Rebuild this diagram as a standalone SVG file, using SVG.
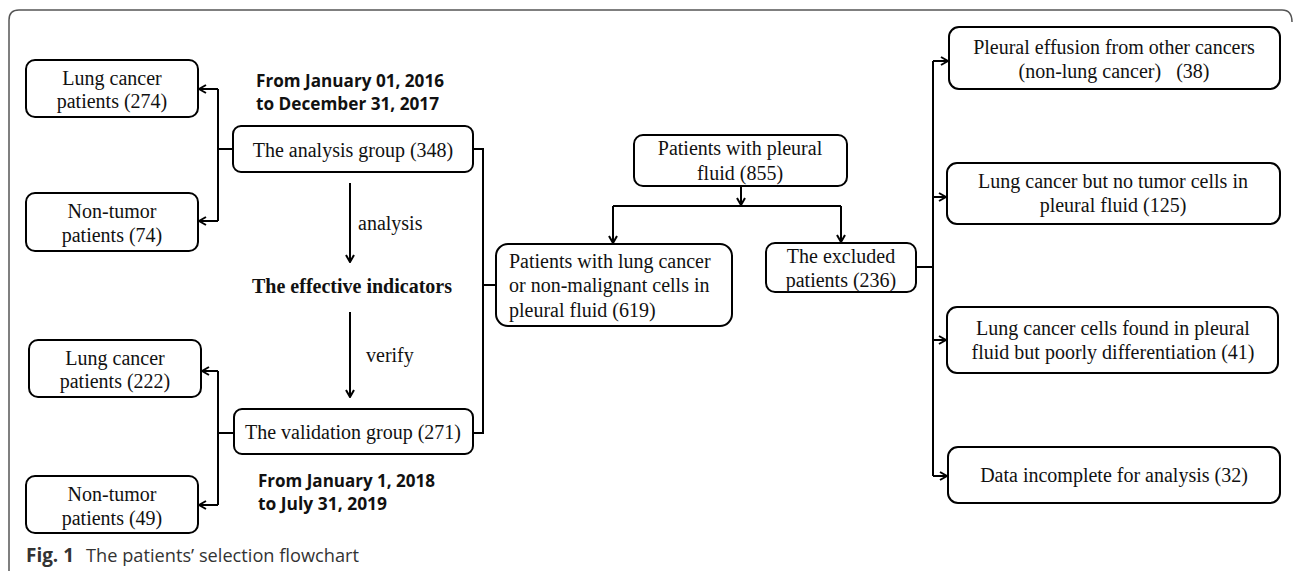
<svg xmlns="http://www.w3.org/2000/svg" width="1293" height="571" viewBox="0 0 1293 571">
<defs>
<marker id="arr" viewBox="0 0 10 10" refX="9" refY="5" markerWidth="10" markerHeight="10" markerUnits="userSpaceOnUse" orient="auto">
<path d="M2,1 L9,5 L2,9" fill="none" stroke="#000" stroke-width="2"/>
</marker>
<style>
.box{fill:#fff;stroke:#000;stroke-width:2}
.t{font-family:"Liberation Serif","Times New Roman",serif;font-size:20px;fill:#111;text-anchor:middle;white-space:pre}
.tl{text-anchor:start}
.b{font-weight:bold}
.d{font-family:"Open Sans","Noto Sans",sans-serif;font-weight:bold;font-size:18px;fill:#111}
.c{fill:none;stroke:#000;stroke-width:2}
.ca{fill:none;stroke:#000;stroke-width:2;marker-end:url(#arr)}
.cap{font-family:"Open Sans","Noto Sans",sans-serif;font-size:19px;fill:#333}
</style>
</defs>
<rect width="1293" height="571" fill="#fff"/>
<path d="M9,571 V20 Q9,10 19,10 H1282 Q1292,10 1292,22" fill="none" stroke="#555" stroke-width="1.5"/>

<g id="connectors">
<path class="c" d="M233,149 H218 M218,89 V221"/>
<path class="ca" d="M218,89 H199"/>
<path class="ca" d="M218,221 H199"/>
<path class="c" d="M234,433 H218 M218,371 V505"/>
<path class="ca" d="M218,371 H202"/>
<path class="ca" d="M218,505 H199"/>
<path class="c" d="M473,149 H483 V433 H473 M483,285 H496"/>
<path class="ca" d="M350,183 V262"/>
<path class="ca" d="M350,312 V397"/>
<path class="ca" d="M741,186 V205"/>
<path class="c" d="M613,206 H841"/>
<path class="ca" d="M613,206 V243"/>
<path class="ca" d="M841,206 V242"/>
<path class="c" d="M916,267 H933 M933,61 V476"/>
<path class="ca" d="M933,61 H948"/>
<path class="ca" d="M933,197 H946"/>
<path class="ca" d="M933,340 H946"/>
<path class="ca" d="M933,476 H947"/>
</g>

<g id="lung274"><rect class="box" x="26" y="60" width="172" height="57" rx="9"/>
<text class="t" x="112" y="85">Lung cancer</text><text class="t" x="112" y="108">patients (274)</text></g>
<g id="nontumor74"><rect class="box" x="26" y="193" width="172" height="58" rx="9"/>
<text class="t" x="112" y="218">Non-tumor</text><text class="t" x="112" y="242">patients (74)</text></g>
<g id="analysis"><rect class="box" x="233" y="126" width="240" height="46" rx="8"/>
<text class="t" x="353" y="157">The analysis group (348)</text></g>
<g id="date1"><text class="d" x="256" y="87" textLength="188" lengthAdjust="spacingAndGlyphs">From January 01, 2016</text>
<text class="d" x="256" y="110" textLength="183" lengthAdjust="spacingAndGlyphs">to December 31, 2017</text></g>
<g id="lbl-analysis"><text class="t tl" x="358" y="230">analysis</text></g>
<g id="indicators"><text class="t b" x="352" y="293">The effective indicators</text></g>
<g id="lbl-verify"><text class="t tl" x="366" y="362">verify</text></g>
<g id="lung222"><rect class="box" x="29" y="340" width="172" height="57" rx="9"/>
<text class="t" x="115" y="365">Lung cancer</text><text class="t" x="115" y="388">patients (222)</text></g>
<g id="nontumor49"><rect class="box" x="26" y="476" width="172" height="57" rx="9"/>
<text class="t" x="112" y="501">Non-tumor</text><text class="t" x="112" y="525">patients (49)</text></g>
<g id="validation"><rect class="box" x="234" y="409" width="239" height="45" rx="8"/>
<text class="t" x="353" y="439">The validation group (271)</text></g>
<g id="date2"><text class="d" x="258" y="487" textLength="177" lengthAdjust="spacingAndGlyphs">From January 1, 2018</text>
<text class="d" x="258" y="510" textLength="129" lengthAdjust="spacingAndGlyphs">to July 31, 2019</text></g>

<g id="pleural855"><rect class="box" x="634" y="135" width="213" height="51" rx="9"/>
<text class="t" x="740" y="155">Patients with pleural</text><text class="t" x="740" y="180">fluid (855)</text></g>
<g id="lung619"><rect class="box" x="496" y="244" width="236" height="82" rx="12"/>
<text class="t tl" x="509" y="268">Patients with lung cancer</text>
<text class="t tl" x="509" y="292">or non-malignant cells in</text>
<text class="t tl" x="509" y="317">pleural fluid (619)</text></g>
<g id="excluded"><rect class="box" x="766" y="243" width="150" height="49" rx="9"/>
<text class="t" x="841" y="263">The excluded</text><text class="t" x="841" y="287">patients (236)</text></g>

<g id="other38"><rect class="box" x="949" y="27" width="331" height="62" rx="10"/>
<text class="t" x="1114" y="54">Pleural effusion from other cancers</text>
<text class="t" x="1114" y="78">(non-lung cancer)   (38)</text></g>
<g id="notumor125"><rect class="box" x="947" y="163" width="333" height="61" rx="10"/>
<text class="t" x="1113" y="188">Lung cancer but no tumor cells in</text>
<text class="t" x="1113" y="212">pleural fluid (125)</text></g>
<g id="poor41"><rect class="box" x="947" y="307" width="331" height="66" rx="10"/>
<text class="t" x="1113" y="335">Lung cancer cells found in pleural</text>
<text class="t" x="1113" y="359">fluid but poorly differentiation (41)</text></g>
<g id="incomplete32"><rect class="box" x="948" y="447" width="332" height="56" rx="10"/>
<text class="t" x="1114" y="482">Data incomplete for analysis (32)</text></g>

<g id="caption"><text class="cap" x="26" y="562" font-weight="bold" fill="#222" textLength="48" lengthAdjust="spacingAndGlyphs">Fig. 1</text>
<text class="cap" x="86" y="562" textLength="273" lengthAdjust="spacingAndGlyphs">The patients’ selection flowchart</text></g>
</svg>
